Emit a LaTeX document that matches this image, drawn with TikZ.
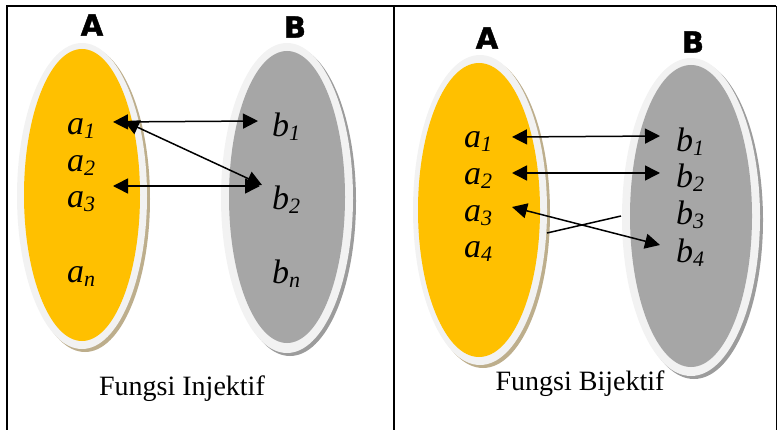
\documentclass[tikz,border=0pt]{standalone}
\usepackage{fontspec}
\setmainfont{Liberation Serif}
\newfontfamily\heavyfont[FakeBold=1.5]{DejaVu Sans}
\usetikzlibrary{arrows.meta}
\definecolor{setyellow}{HTML}{FFC000}
\definecolor{setgray}{HTML}{A6A6A6}
\definecolor{ringcol}{HTML}{F2F2F2}
\definecolor{tanshadow}{HTML}{BDAE8C}
\definecolor{grayshadow}{HTML}{9C9C9C}
\newcommand\elm[2]{\textit{#1}\raisebox{-4pt}{\fontsize{22}{22}\selectfont\textit{#2}}}
\tikzset{
  elem/.style={anchor=base west, inner sep=0pt, font=\fontsize{34}{36}\selectfont},
  setname/.style={inner sep=0pt, font=\heavyfont\bfseries\fontsize{29}{29}\selectfont},
  caption/.style={anchor=base, inner sep=0pt, font=\fontsize{28}{30}\selectfont},
  link/.style={line width=1.5pt, {Triangle[length=15pt,width=15pt]}-{Triangle[length=15pt,width=15pt]}},
  plain/.style={line width=1.5pt},
  frame/.style={line width=2pt}
}
\begin{document}
\begin{tikzpicture}[x=1pt,y=-1pt]
\useasboundingbox (0,0) rectangle (781,430);
% frame
\draw[frame] (7,430) -- (7,6) -- (776,6);
\draw[frame] (394,6) -- (394,430);
\draw[line width=1pt] (776,6) -- (776,430);

% ---- left panel ----
\fill[tanshadow] (85,199) ellipse [x radius=65, y radius=153];
\fill[ringcol] (82,196) ellipse [x radius=65, y radius=153];
\fill[setyellow] (82,195) ellipse [x radius=58, y radius=146];
\fill[grayshadow] (290,201) ellipse [x radius=66, y radius=155];
\fill[ringcol] (287,198) ellipse [x radius=66, y radius=155];
\fill[setgray] (287,197) ellipse [x radius=58, y radius=146];

\node[setname] (LA) at (92,25) {A};
\node[setname] (LB) at (295,27) {B};

\node[elem] (a1) at (67,135) {\elm{a}{1}};
\node[elem] (a2) at (67,172) {\elm{a}{2}};
\node[elem] (a3) at (67,208) {\elm{a}{3}};
\node[elem] (an) at (67,282) {\elm{a}{n}};
\node[elem] (b1) at (272,137) {\elm{b}{1}};
\node[elem] (b2) at (272,210) {\elm{b}{2}};
\node[elem] (bn) at (272,283) {\elm{b}{n}};

\coordinate (pa1) at (113,122);
\coordinate (pa1d) at (124,121);
\coordinate (pa3) at (113,186);
\coordinate (pb1) at (258,121);
\coordinate (pb2) at (262,185);
\coordinate (pb2h) at (260,186);
\draw[link] (pa1) -- (pb1);
\draw[link] (pa1d) -- (pb2);
\draw[link] (pa3) -- (pb2h);

\node[caption] (capL) at (182,395) {Fungsi Injektif};

% ---- right panel ----
\fill[tanshadow] (483,213) ellipse [x radius=67, y radius=155];
\fill[ringcol] (480,210) ellipse [x radius=67, y radius=155];
\fill[setyellow] (479,210) ellipse [x radius=61, y radius=147];
\fill[grayshadow] (694,220) ellipse [x radius=69, y radius=159];
\fill[ringcol] (691,217) ellipse [x radius=69, y radius=159];
\fill[setgray] (691,216) ellipse [x radius=61, y radius=151];

\node[setname] (RA) at (487,38) {A};
\node[setname] (RB) at (693,42) {B};

\node[elem] (c1) at (464,148) {\elm{a}{1}};
\node[elem] (c2) at (464,185) {\elm{a}{2}};
\node[elem] (c3) at (464,222) {\elm{a}{3}};
\node[elem] (c4) at (464,258) {\elm{a}{4}};
\node[elem] (d1) at (676,152) {\elm{b}{1}};
\node[elem] (d2) at (676,188) {\elm{b}{2}};
\node[elem] (d3) at (676,225) {\elm{b}{3}};
\node[elem] (d4) at (676,262) {\elm{b}{4}};

\coordinate (pc1) at (512,137);
\coordinate (pc2) at (512,173);
\coordinate (pc3) at (512,207);
\coordinate (pd1) at (660,136);
\coordinate (pd2) at (660,173);
\coordinate (pd4) at (660,245);
\coordinate (xl) at (547,233);
\coordinate (xr) at (621,216);
\draw[link] (pc1) -- (pd1);
\draw[link] (pc2) -- (pd2);
\draw[link] (pc3) -- (pd4);
\draw[plain] (xl) -- (xr);

\node[caption] (capR) at (580,390) {Fungsi Bijektif};
\end{tikzpicture}
\end{document}
